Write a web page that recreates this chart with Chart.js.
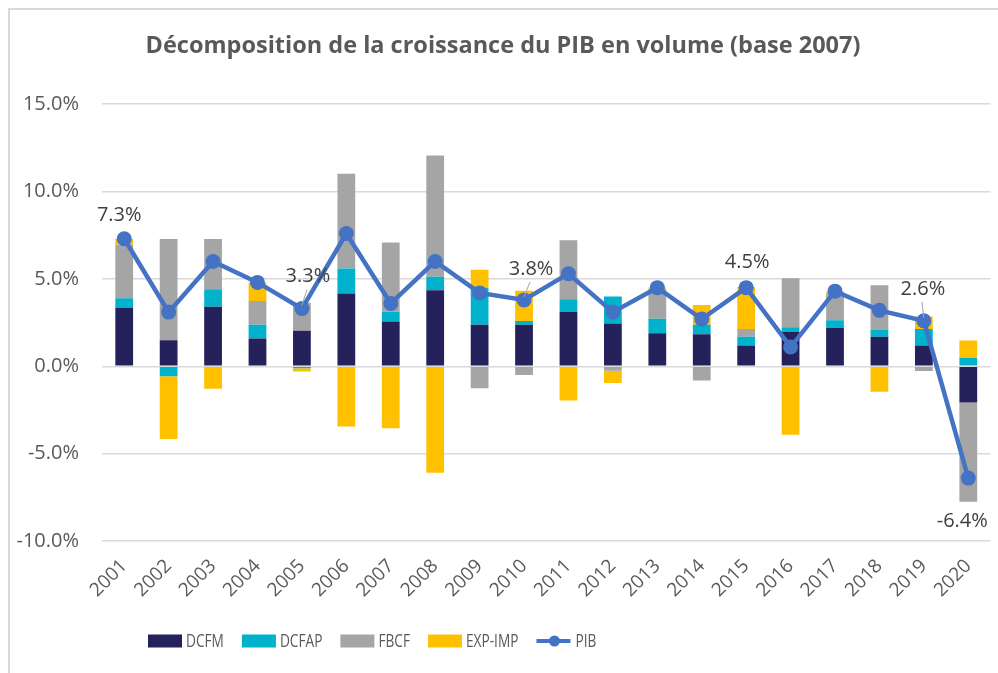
<!DOCTYPE html>
<html><head><meta charset="utf-8">
<script src="https://cdn.jsdelivr.net/npm/chart.js@4.4.1/dist/chart.umd.min.js"></script>
<style>html,body{margin:0;padding:0;background:#fff;overflow:hidden;}</style>
</head><body>
<canvas id="c" width="998" height="673"></canvas>
<script>
// ---- data (percentage points) ----
const years = ['2001','2002','2003','2004','2005','2006','2007','2008','2009','2010',
               '2011','2012','2013','2014','2015','2016','2017','2018','2019','2020'];
const DCFM  = [3.35, 1.49, 3.41, 1.59, 2.03, 4.16, 2.57, 4.35, 2.38, 2.38, 3.12, 2.45, 1.89, 1.84, 1.19, 1.97, 2.20, 1.69, 1.19, -2.07];
const DCFAP = [0.54, -0.57, 1.00, 0.79, -0.11, 1.43, 0.55, 0.78, 2.10, 0.21, 0.71, 1.55, 0.83, 0.54, 0.50, 0.27, 0.44, 0.42, 0.95, 0.48];
const FBCF  = [3.06, 5.79, 2.87, 1.36, 1.61, 5.43, 3.97, 6.94, -1.26, -0.50, 3.39, -0.25, 1.69, -0.82, 0.44, 2.80, 1.48, 2.53, -0.27, -5.69];
const EXPIMP= [0.33, -3.59, -1.28, 1.05, -0.19, -3.45, -3.54, -6.09, 1.04, 1.74, -1.96, -0.71, 0.10, 1.13, 2.41, -3.92, 0.15, -1.46, 0.71, 1.00];
const PIB   = [7.3, 3.1, 6.0, 4.8, 3.3, 7.6, 3.6, 6.0, 4.2, 3.8, 5.3, 3.1, 4.5, 2.7, 4.5, 1.1, 4.3, 3.2, 2.6, -6.4];
const labelledYears = ['2001','2005','2010','2015','2019','2020'];
const yTicks = [-10, -5, 0, 5, 10, 15];

// ---- styling ----
const labelStyle = {
  '2001': {dx:-5, dy:-23, leader:false},
  '2005': {dx:6, dy:-32, leader:true},
  '2010': {dx:7, dy:-31, leader:true},
  '2015': {dx:1, dy:-25, leader:false},
  '2019': {dx:-1, dy:-32, leader:true},
  '2020': {dx:-6, dy:43, leader:false}
};
const PIB_COLOR = '#4472C4';
const TEXT = '#595959';
const legendStyle = {x:148, y:641, box:34, boxH:13, gap:4, spacing:18, font:'19px "Open Sans", sans-serif', squeeze:0.72};

const framePlugin = {
  id: 'frame',
  beforeDraw(chart) {
    const ctx = chart.ctx;
    ctx.save();
    ctx.fillStyle = '#fff';
    ctx.fillRect(0, 0, chart.width, chart.height);
    ctx.strokeStyle = '#D9D9D9';
    ctx.lineWidth = 2;
    ctx.beginPath();
    ctx.moveTo(9, chart.height); ctx.lineTo(9, 9); ctx.lineTo(chart.width, 9);
    ctx.stroke();
    ctx.restore();
  }
};

const pibLabelPlugin = {
  id: 'pibLabels',
  afterDatasetsDraw(chart) {
    const meta = chart.getDatasetMeta(4);
    const ctx = chart.ctx;
    ctx.save();
    ctx.font = '20px "Open Sans", sans-serif';
    ctx.textAlign = 'center';
    ctx.textBaseline = 'middle';
    labelledYears.forEach(yr => {
      const i = years.indexOf(yr);
      const pt = meta.data[i];
      const st = labelStyle[yr];
      const lx = pt.x + st.dx, ly = pt.y + st.dy;
      if (st.leader) {
        ctx.strokeStyle = '#A6A6A6'; ctx.lineWidth = 1;
        ctx.beginPath(); ctx.moveTo(lx - 1, ly + 13); ctx.lineTo(pt.x, pt.y - 3); ctx.stroke();
      }
      ctx.fillStyle = '#404040';
      ctx.fillText(PIB[i].toFixed(1) + '%', lx, ly);
    });
    ctx.restore();
  }
};

const legendPlugin = {
  id: 'customLegend',
  afterDraw(chart) {
    const ctx = chart.ctx, L = legendStyle;
    ctx.save();
    ctx.font = L.font;
    ctx.textBaseline = 'middle';
    let x = L.x;
    chart.data.datasets.forEach(ds => {
      if (ds.type === 'line') {
        ctx.strokeStyle = ds.borderColor; ctx.lineWidth = 4;
        ctx.beginPath(); ctx.moveTo(x, L.y); ctx.lineTo(x + L.box, L.y); ctx.stroke();
        ctx.fillStyle = ds.borderColor;
        ctx.beginPath(); ctx.arc(x + L.box / 2 + 1, L.y, 5.5, 0, Math.PI * 2); ctx.fill();
        x += L.box + 1;
      } else {
        ctx.fillStyle = ds.backgroundColor;
        ctx.fillRect(x, L.y - L.boxH / 2, L.box, L.boxH);
        x += L.box;
      }
      x += L.gap;
      const w = ctx.measureText(ds.label).width * L.squeeze;
      ctx.save();
      ctx.translate(x, L.y + 1);
      ctx.scale(L.squeeze, 1);
      ctx.fillStyle = TEXT;
      ctx.fillText(ds.label, 0, 0);
      ctx.restore();
      x += w + L.spacing;
    });
    ctx.restore();
  }
};

new Chart(document.getElementById('c'), {
  data: {
    labels: years,
    datasets: [
      {type:'bar', label:'DCFM', data:DCFM, backgroundColor:'#25215B', stack:'s', order:1},
      {type:'bar', label:'DCFAP', data:DCFAP, backgroundColor:'#00B2CB', stack:'s', order:1},
      {type:'bar', label:'FBCF', data:FBCF, backgroundColor:'#A5A5A5', stack:'s', order:1},
      {type:'bar', label:'EXP-IMP', data:EXPIMP, backgroundColor:'#FFC000', stack:'s', order:1},
      {type:'line', label:'PIB', data:PIB, stack:'p', order:0,
       borderColor:PIB_COLOR, backgroundColor:PIB_COLOR, borderWidth:4.5,
       pointRadius:7.5, pointHoverRadius:7.5, pointBackgroundColor:PIB_COLOR, pointBorderWidth:0,
       tension:0}
    ]
  },
  options: {
    responsive:false,
    devicePixelRatio:1,
    animation:false,
    layout:{padding:{left:13, right:5, top:0, bottom:0}},
    datasets:{bar:{barPercentage:1, categoryPercentage:0.4}},
    plugins:{
      title:{display:true, text:'Décomposition de la croissance du PIB en volume (base 2007)',
        color:TEXT, font:{family:'"Open Sans", sans-serif', size:23.5, weight:'bold'},
        padding:{top:32, bottom:44}},
      legend:{display:false},
      tooltip:{enabled:false}
    },
    scales:{
      x:{stacked:true,
        grid:{display:false}, border:{display:false},
        afterFit(scale){ scale.paddingLeft = 0; scale.paddingRight = 0; scale.height = 132; },
        ticks:{color:TEXT, font:{family:'"Open Sans", sans-serif', size:19}, minRotation:45, maxRotation:45, padding:6}},
      y:{stacked:true, min:-10, max:15,
        afterBuildTicks(scale){ scale.ticks = yTicks.map(v => ({value:v})); },
        afterFit(scale){ scale.width = 89; },
        grid:{color:'#D9D9D9', lineWidth:1.5, drawTicks:false}, border:{display:false},
        ticks:{color:TEXT, font:{family:'"Open Sans", sans-serif', size:20}, padding:23,
          callback:v => v.toFixed(1) + '%'}}
    }
  },
  plugins:[framePlugin, pibLabelPlugin, legendPlugin]
});
</script>
</body></html>
